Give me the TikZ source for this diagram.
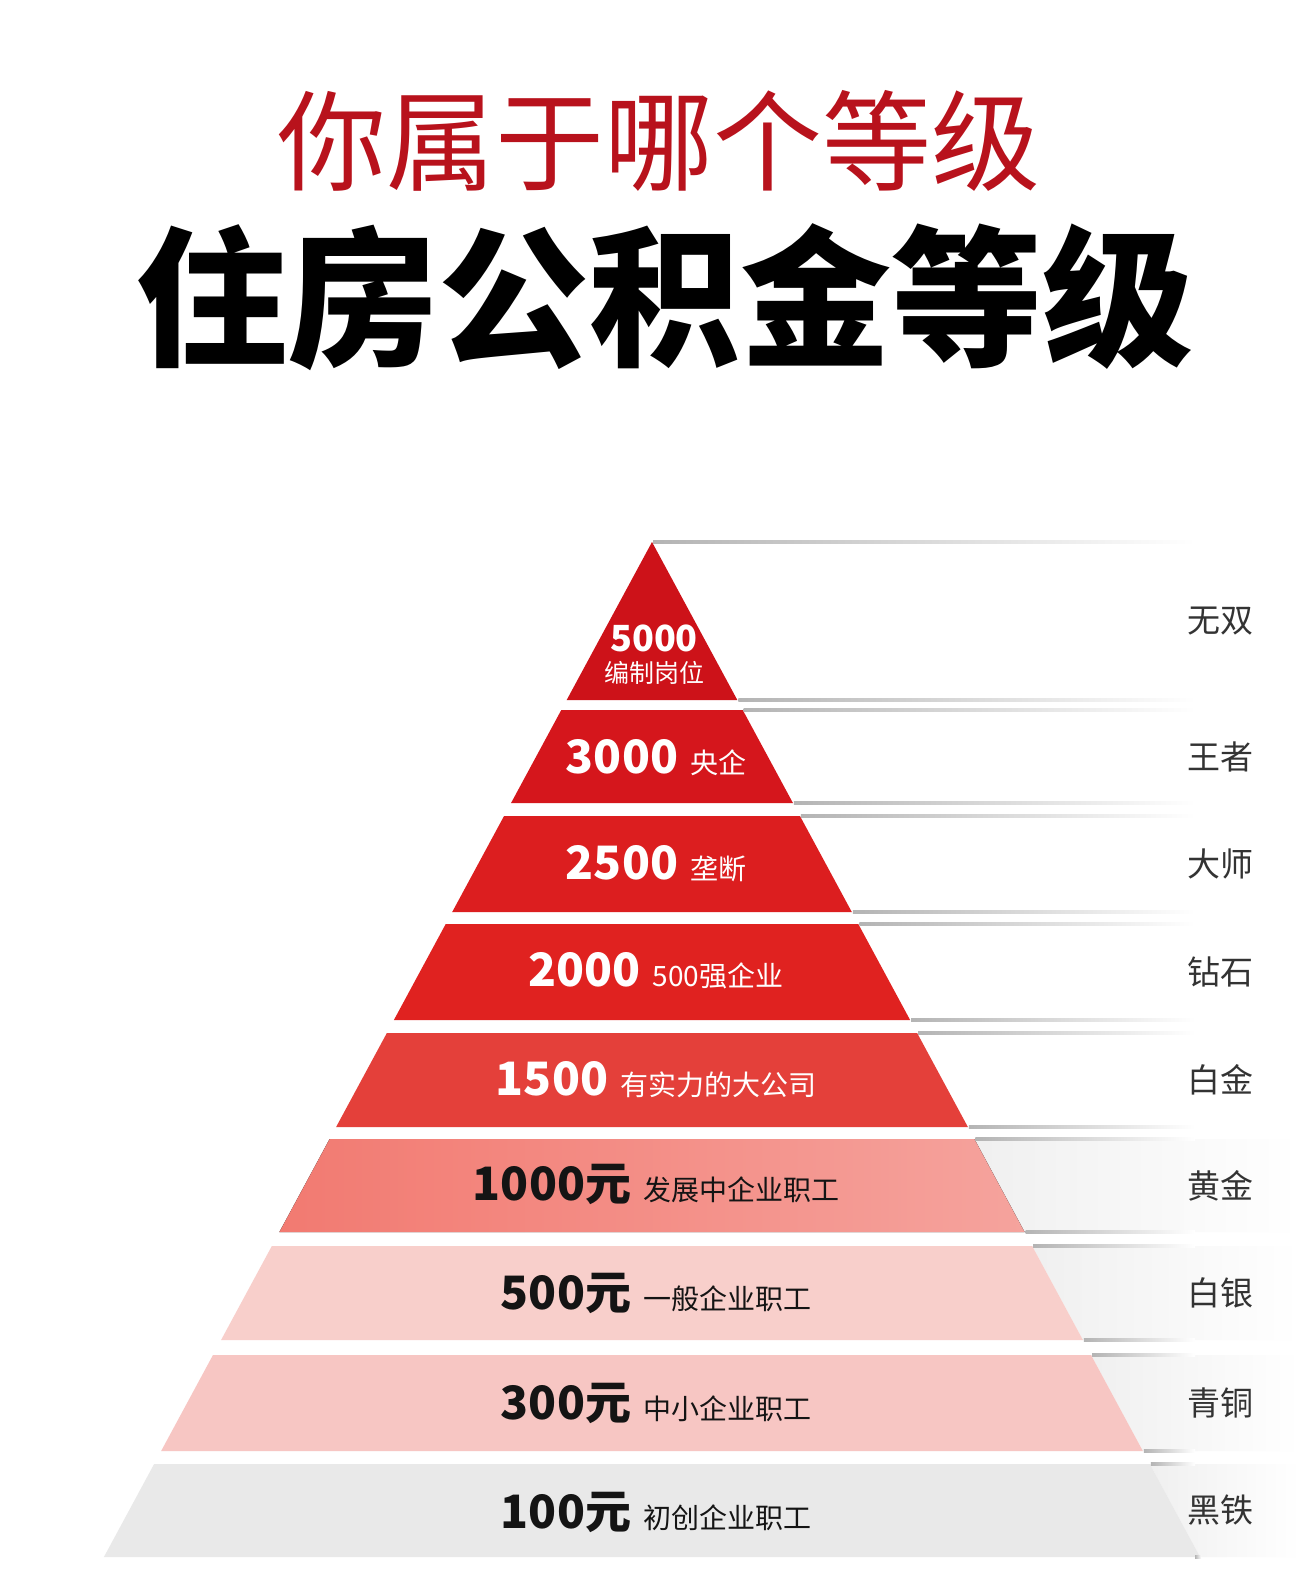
\documentclass[tikz,border=0pt]{standalone}
\usepackage{fontspec}
\setmainfont{Noto Sans CJK SC}
\definecolor{titlered}{HTML}{B8121C}
\definecolor{tierA}{HTML}{CD1219}
\definecolor{tierB}{HTML}{D5161C}
\definecolor{tierC}{HTML}{DC1E1F}
\definecolor{tierD}{HTML}{E02220}
\definecolor{tierE}{HTML}{E4403A}
\definecolor{tierFl}{HTML}{F27A71}
\definecolor{tierFr}{HTML}{F5A39D}
\definecolor{tierG}{HTML}{F8CFCB}
\definecolor{tierH}{HTML}{F7C6C3}
\definecolor{tierI}{HTML}{E9E9E9}
\definecolor{rule}{HTML}{B4B4B4}
\tikzset{
  rank/.style={anchor=east, inner sep=0pt, text=black!80,
    font=\fontsize{33}{33}\selectfont},
  amount/.style={inner sep=0pt, font=\fontsize{28}{28}\selectfont},
  whitetxt/.style={amount, text=white},
  blacktxt/.style={amount, text=black!92},
}
\newcommand{\num}[1]{{\fontsize{46}{46}\selectfont\bfseries #1}\hspace{12pt}}
\begin{document}
\begin{tikzpicture}[x=1pt,y=-1pt]
  \useasboundingbox (0,0) rectangle (1300,1580);
  \fill[white] (0,0) rectangle (1300,1580);
  % titles
  \node[text=titlered, font=\fontsize{109}{109}\selectfont] (sub) at (659,141) {你属于哪个等级};
  \node[font=\fontsize{151}{151}\selectfont\bfseries] (title) at (665,297) {住房公积金等级};
  % pyramid bands, rules and ranks
  \foreach \n/\t/\b/\col/\rk in {
      1/542/700/tierA/无双, 2/710/803/tierB/王者, 3/816/912/tierC/大师,
      4/924/1020/tierD/钻石, 5/1033/1127/tierE/白金, 6/1139/1232/tierFl/黄金,
      7/1246/1340/tierG/白银, 8/1355/1451/tierH/青铜, 9/1464/1557/tierI/黑铁} {
    \pgfmathsetmacro\lt{652-0.54*(\t-542)}
    \pgfmathsetmacro\rt{652+0.54*(\t-542)}
    \pgfmathsetmacro\lb{652-0.54*(\b-542)}
    \pgfmathsetmacro\rb{652+0.54*(\b-542)}
    \ifnum\n>5
      \shade[left color=black!6, right color=white] (\rt,\t) -- (1300,\t) -- (1300,\b) -- (\rb,\b) -- cycle;
    \fi
    \ifnum\n=6
      \fill[left color=tierFl, right color=tierFr] (\lt,\t) -- (\rt,\t) -- (\rb,\b) -- (\lb,\b) -- cycle;
    \else
      \fill[\col] (\lt,\t) -- (\rt,\t) -- (\rb,\b) -- (\lb,\b) -- cycle;
    \fi
    \shade[left color=rule, right color=white] (\rt+1,\t-1.5) rectangle (1195,\t+1.5);
    \shade[left color=rule, right color=white] (\rb+1,\b-1.5) rectangle (1195,\b+1.5);
    \node[rank] (rank\n) at (1254,{(\t+\b)/2}) {\rk};
  }
  % texts inside the pyramid
  \node[whitetxt, font=\fontsize{36}{36}\selectfont\bfseries] (amt1) at (654,638) {5000};
  \node[whitetxt, font=\fontsize{25}{25}\selectfont] (job1) at (654,673) {编制岗位};
  \node[whitetxt] (amt2) at (656,758) {\num{3000}央企};
  \node[whitetxt] (amt3) at (656,864) {\num{2500}垄断};
  \node[whitetxt] (amt4) at (656,971) {\num{2000}500强企业};
  \node[whitetxt] (amt5) at (656,1080) {\num{1500}有实力的大公司};
  \node[blacktxt] (amt6) at (656,1184) {\num{1000元}发展中企业职工};
  \node[blacktxt] (amt7) at (656,1293) {\num{500元}一般企业职工};
  \node[blacktxt] (amt8) at (656,1403) {\num{300元}中小企业职工};
  \node[blacktxt] (amt9) at (656,1512) {\num{100元}初创企业职工};
\end{tikzpicture}
\end{document}
